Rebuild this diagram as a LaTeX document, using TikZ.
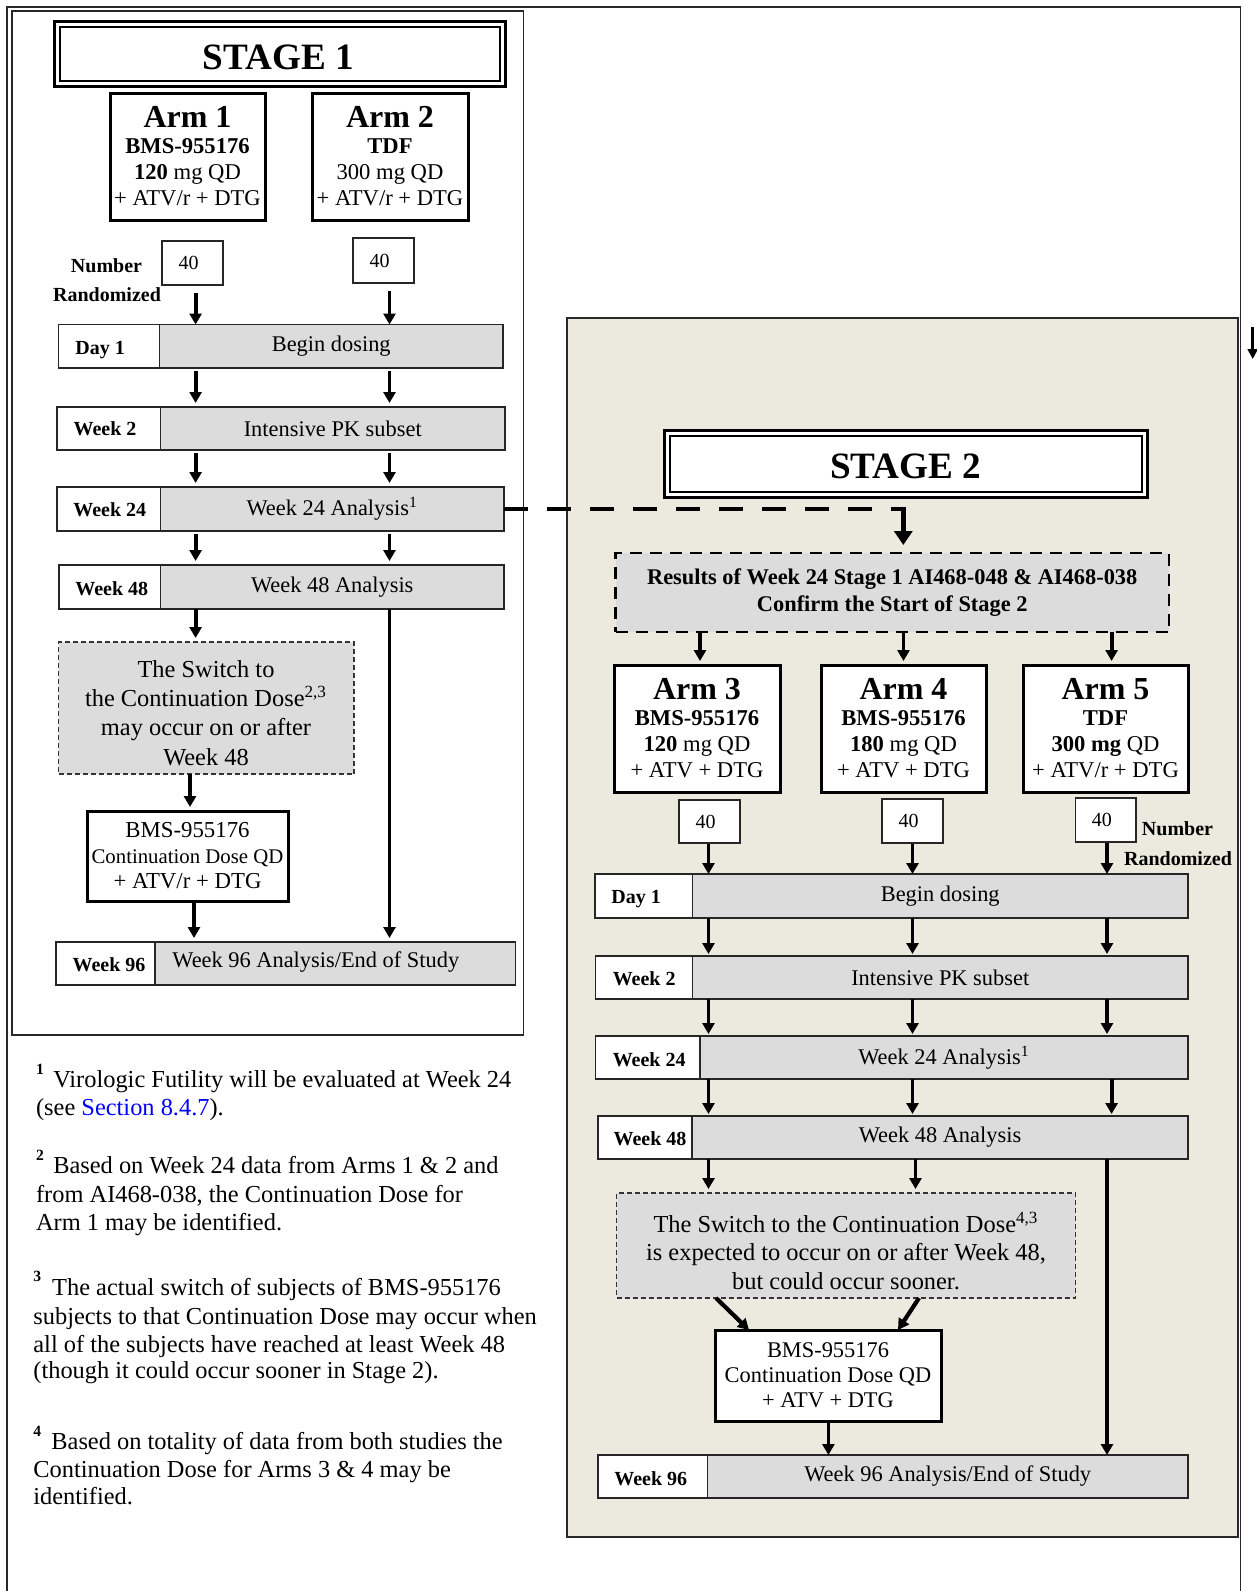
\documentclass[tikz,border=0pt]{standalone}
\usepackage{fontspec}
\setmainfont{Liberation Serif}
\usetikzlibrary{arrows.meta}
\definecolor{greyc}{RGB}{220,220,220}
\definecolor{beige}{RGB}{236,233,223}
\definecolor{linec}{RGB}{40,40,40}
\definecolor{linkblue}{RGB}{0,0,255}
\newcommand\fs[2]{\fontsize{#1}{#2}\selectfont}
\newcommand\bx[7][]{\node[#1,inner sep=0pt,outer sep=0pt,minimum width={(#5-#3)*0.5pt},minimum height={(#6-#4)*0.5pt}] (#2) at ({(#3+#5)/2},{(#4+#6)/2}) {#7};}
\begin{document}
\begin{tikzpicture}[x=0.5pt,y=-0.5pt,
 title/.style={font=\fs{18.6}{20}\bfseries, inner sep=0pt},
 armbox/.style={draw=black, line width=1.5pt, fill=white, align=center, font=\fs{11.3}{13}},
 numbox/.style={draw=black!85, line width=0.6pt, fill=white, font=\fs{10}{12}},
 labbox/.style={draw=black!85, line width=0.75pt, fill=white},
 greybox/.style={draw=black!85, line width=0.75pt, fill=greyc, font=\fs{11.2}{13}},
 lbl/.style={font=\fs{10}{12}\bfseries, inner sep=0pt},
 swbox/.style={draw=black!80, dash pattern=on 2.5pt off 1.5pt, line width=0.6pt, fill=greyc},
 swtext/.style={align=center, inner sep=0pt, font=\fs{12.2}{14.6}},
 contbox/.style={draw=black, line width=1.5pt, fill=white, align=center},
 resbox/.style={draw=black, dash pattern=on 6pt off 4pt, line width=1.4pt, fill=greyc, align=center, font=\fs{11.2}{13.3}\bfseries},
 arr/.style={draw=black, line width=1.9pt, -{Triangle[width=6pt,length=5.5pt]}, shorten <=1.5pt, shorten >=2pt},
 dashconn/.style={draw=black, line width=2.4pt, dash pattern=on 12pt off 9.5pt},
 bigarr/.style={draw=black, line width=2.4pt, -{Triangle[width=9pt,length=7pt]}},
 fn/.style={font=\fs{12.2}{14}, inner sep=0pt, anchor=base west},
 fnsup/.style={font=\fs{7.8}{8}\bfseries, inner sep=0pt, anchor=base west},
 armhead/.style={font=\fs{16}{16}\bfseries}
]
\useasboundingbox (0,0) rectangle (1257,1591);
\fill[white] (0,0) rectangle (1257,1591);
% frames
\draw[line width=0.6pt, draw=linec] (7,1595) -- (7,7) -- (1240.7,7) -- (1240.7,1595);
\draw[line width=0.75pt, draw=linec] (12,11) rectangle (523.5,1035);
\draw[line width=1pt, draw=linec, fill=beige] (567,318) rectangle (1238.3,1537);

% ===== STAGE 1 =====
\bx[draw=black,line width=1.5pt,fill=white]{t1o}{54}{21}{505}{86}{}
\bx[draw=black,line width=1pt]{t1i}{59.5}{26.5}{499.5}{80.5}{}
\node[title, anchor=base] (t1txt) at (278.6,69.3) {STAGE 1};

\bx[armbox]{arm1}{110}{93}{265}{220}{{\fs{16}{16}\bfseries Arm 1}\\ \textbf{BMS-955176}\\ \textbf{120} mg QD\\ + ATV/r + DTG}
\bx[armbox]{arm2}{312}{93}{468}{220}{{\fs{16}{16}\bfseries Arm 2}\\ \textbf{TDF}\\ 300 mg QD\\ + ATV/r + DTG}

\node[lbl, anchor=base] (num1) at (106.5,272.7) {Number};
\node[lbl, anchor=base] (rand1) at (107,301.7) {Randomized};
\bx[numbox]{n1}{162}{241}{223}{285}{40\kern4pt}
\bx[numbox]{n2}{353}{238}{414}{283}{40\kern4pt}

\bx[labbox]{d1l}{58.5}{324.5}{159.5}{368}{}
\bx[greybox]{d1g}{159.5}{324.5}{503}{368}{Begin dosing}
\node[lbl, anchor=base west] (d1t) at (75,354.3) {Day 1};

\bx[labbox]{w2l}{57}{407}{160.5}{450}{}
\bx[greybox]{w2g}{160.5}{407}{505}{450}{Intensive PK subset}
\node[lbl, anchor=base west] (w2t) at (73.3,435) {Week 2};

\bx[labbox]{w24l}{57}{487}{160.5}{531}{}
\bx[greybox]{w24g}{160.5}{487}{504}{531}{Week 24 Analysis\textsuperscript{1}}
\node[lbl, anchor=base west] (w24t) at (73,516.7) {Week 24};

\bx[labbox]{w48l}{59}{565}{160.5}{609}{}
\bx[greybox]{w48g}{160.5}{565}{504}{609}{Week 48 Analysis}
\node[lbl, anchor=base west] (w48t) at (75,595) {Week 48};

\bx[swbox]{sw1}{58.5}{642}{354}{774}{}
\node[swtext] (sw1t) at (206,713) {The Switch to\\the Continuation Dose\textsuperscript{2,3}\\may occur on or after\\Week 48};

\bx[contbox, font=\fs{11.4}{12.75}]{cont1}{87}{811}{288}{901}{BMS-955176\\{\fs{10.4}{12.75}Continuation Dose QD}\\+ ATV/r + DTG}

\bx[labbox]{w96l}{56}{942}{155}{985}{}
\bx[greybox]{w96g}{155}{942}{515.5}{985}{}
\node[lbl, anchor=base west] (w96t) at (72.3,971.7) {Week 96};
\node[font=\fs{11.2}{13}, inner sep=0pt, anchor=base west] (w96gt) at (172,967.5) {Week 96 Analysis/End of Study};

% stage 1 connectors
\coordinate (c1) at (195.6,0);
\coordinate (c2) at (389.5,0);
\coordinate (c3) at (190,0);
\coordinate (c4) at (194,0);
\draw[arr, shorten <=4pt, shorten >=0pt] (n1.south -| c1) -- (d1g.north -| c1);
\draw[arr, shorten <=4pt, shorten >=0pt] (n2.south -| c2) -- (d1g.north -| c2);
\draw[arr] (d1g.south -| c1) -- (w2g.north -| c1);
\draw[arr] (d1g.south -| c2) -- (w2g.north -| c2);
\draw[arr] (w2g.south -| c1) -- (w24g.north -| c1);
\draw[arr] (w2g.south -| c2) -- (w24g.north -| c2);
\draw[arr] (w24g.south -| c1) -- (w48g.north -| c1);
\draw[arr] (w24g.south -| c2) -- (w48g.north -| c2);
\draw[arr, shorten <=0pt] (w48g.south -| c1) -- (sw1.north -| c1);
\draw[arr, shorten <=0pt] (w48g.south -| c2) -- (w96g.north -| c2);
\draw[arr, shorten <=0pt] (sw1.south -| c3) -- (cont1.north -| c3);
\draw[arr, shorten <=0pt] (cont1.south -| c4) -- (w96g.north -| c4);

% ===== STAGE 2 =====
\bx[draw=black,line width=1.5pt,fill=white]{t2o}{664.5}{430}{1147}{497}{}
\bx[draw=black,line width=1pt]{t2i}{670}{435.5}{1141.5}{491.5}{}
\node[title, anchor=base] (t2txt) at (905.8,478) {STAGE 2};

\bx[resbox]{res}{615.5}{553}{1169}{632}{Results of Week 24 Stage 1 AI468-048 \& AI468-038\\Confirm the Start of Stage 2}

\bx[armbox]{arm3}{614}{665}{780}{792}{{\fs{16}{16}\bfseries Arm 3}\\ \textbf{BMS-955176}\\ \textbf{120} mg QD\\ + ATV + DTG}
\bx[armbox]{arm4}{821}{665}{986}{792}{{\fs{16}{16}\bfseries Arm 4}\\ \textbf{BMS-955176}\\ \textbf{180} mg QD\\ + ATV + DTG}
\bx[armbox]{arm5}{1023}{665}{1188}{792}{{\fs{16}{16}\bfseries Arm 5}\\ \textbf{TDF}\\ \textbf{300 mg} QD\\ + ATV/r + DTG}

\bx[numbox]{n3}{679}{800}{740}{843}{40\kern4pt}
\bx[numbox]{n4}{882}{799}{943}{843}{40\kern4pt}
\bx[numbox]{n5}{1075.5}{798}{1136}{842}{40\kern4pt}
\node[lbl, anchor=base] (num2) at (1177.5,835) {Number};
\node[lbl, anchor=base] (rand2) at (1178,865) {Randomized};

\bx[labbox]{e1l}{595}{874}{692.5}{918}{}
\bx[greybox]{e1g}{692.5}{874}{1188}{918}{Begin dosing}
\node[lbl, anchor=base west] (e1t) at (611,903.3) {Day 1};

\bx[labbox]{e2l}{595.5}{956}{692.5}{999}{}
\bx[greybox]{e2g}{692.5}{956}{1188}{999}{Intensive PK subset}
\node[lbl, anchor=base west] (e2t) at (612.4,985) {Week 2};

\bx[labbox]{e24l}{595.5}{1036}{700}{1079}{}
\bx[greybox]{e24g}{700}{1036}{1188}{1079}{Week 24 Analysis\textsuperscript{1}}
\node[lbl, anchor=base west] (e24t) at (612.4,1066) {Week 24};

\bx[labbox]{e48l}{598}{1116}{692}{1159}{}
\bx[greybox]{e48g}{692}{1116}{1188}{1159}{Week 48 Analysis}
\node[lbl, anchor=base west] (e48t) at (613.3,1145) {Week 48};

\bx[swbox]{sw2}{616.5}{1193}{1075.5}{1298}{}
\node[swtext, font=\fs{12.2}{14.3}] (sw2t) at (846,1251) {The Switch to the Continuation Dose\textsuperscript{4,3}\\is expected to occur on or after Week 48,\\but could occur sooner.};

\bx[contbox, font=\fs{11.2}{12.5}]{cont2}{715}{1330}{941}{1421}{BMS-955176\\Continuation Dose QD\\+ ATV + DTG}

\bx[labbox]{e96l}{598}{1455}{707.5}{1498}{}
\bx[greybox]{e96g}{707.5}{1455}{1188}{1498}{Week 96 Analysis/End of Study}
\node[lbl, anchor=base west] (e96t) at (614,1485) {Week 96};

% stage 2 connectors
\coordinate (r1) at (700,0);
\coordinate (r2) at (903.5,0);
\coordinate (r3) at (1111.6,0);
\coordinate (s1) at (708.5,0);
\coordinate (s2) at (912.5,0);
\coordinate (s3) at (1107,0);
\coordinate (s2b) at (915.5,0);
\coordinate (s4) at (828.4,0);
\coordinate (dg1a) at (716,0);
\coordinate (dg1b) at (749,0);
\coordinate (dg2a) at (919,0);
\coordinate (dg2b) at (898,0);
\draw[arr, shorten <=0pt] (res.south -| r1) -- (arm3.north -| r1);
\draw[arr, shorten <=0pt] (res.south -| r2) -- (arm4.north -| r2);
\draw[arr, shorten <=0pt] (res.south -| r3) -- (arm5.north -| r3);
\draw[arr, shorten <=0.5pt, shorten >=0pt] (n3.south -| s1) -- (e1g.north -| s1);
\draw[arr, shorten <=0.5pt, shorten >=0pt] (n4.south -| s2) -- (e1g.north -| s2);
\draw[arr, shorten <=0.5pt, shorten >=0pt] (n5.south -| s3) -- (e1g.north -| s3);
\draw[arr, shorten <=0pt, shorten >=1pt] (e1g.south -| s1) -- (e2g.north -| s1);
\draw[arr, shorten <=0pt, shorten >=1pt] (e1g.south -| s2) -- (e2g.north -| s2);
\draw[arr, shorten <=0pt, shorten >=1pt] (e1g.south -| s3) -- (e2g.north -| s3);
\draw[arr, shorten <=0pt, shorten >=1pt] (e2g.south -| s1) -- (e24g.north -| s1);
\draw[arr, shorten <=0pt, shorten >=1pt] (e2g.south -| s2) -- (e24g.north -| s2);
\draw[arr, shorten <=0pt, shorten >=1pt] (e2g.south -| s3) -- (e24g.north -| s3);
\draw[arr, shorten <=0pt, shorten >=1pt] (e24g.south -| s1) -- (e48g.north -| s1);
\draw[arr, shorten <=0pt, shorten >=1pt] (e24g.south -| s2) -- (e48g.north -| s2);
\draw[arr, shorten <=0pt, shorten >=1pt] (e24g.south -| r3) -- (e48g.north -| r3);
\draw[arr, shorten <=0pt] (e48g.south -| s1) -- (sw2.north -| s1);
\draw[arr, shorten <=0pt] (e48g.south -| s2b) -- (sw2.north -| s2b);
\draw[arr, shorten <=0pt, shorten >=0pt] (e48g.south -| s3) -- (e96g.north -| s3);
\draw[arr, line width=2.1pt, shorten <=0pt, shorten >=0pt] (sw2.south -| dg1a) -- (cont2.north -| dg1b);
\draw[arr, line width=2.1pt, shorten <=0pt, shorten >=0pt] (sw2.south -| dg2a) -- (cont2.north -| dg2b);
\draw[arr, shorten <=0pt, shorten >=0pt] (cont2.south -| s4) -- (e96g.north -| s4);

% dashed link stage 1 -> stage 2
\coordinate (dk) at (903.3,0);
\draw[dashconn] (w24g.east) -- (w24g.east -| dk);
\draw[bigarr, shorten <=-1.2pt, shorten >=4pt] (w24g.east -| dk) -- (res.north -| dk);

% stray arrow at right edge
\coordinate (sa) at (1252.7,327);
\coordinate (sb) at (1252.7,359);
\draw[draw=black, line width=1.3pt, -{Triangle[width=5pt,length=5pt]}] (sa) -- (sb);

% footnotes
\node[fnsup] (f1s) at (35.7,1074.5) {1};
\node[fn] (f1) at (52.9,1087.2) {Virologic Futility will be evaluated at Week 24};
\node[fn] (f2) at (35.7,1115.9) {(see {\color{linkblue}Section 8.4.7}).};
\node[fnsup] (f2s) at (35.7,1160.5) {2};
\node[fn] (f3) at (52.9,1173.1) {Based on Week 24 data from Arms 1 \& 2 and};
\node[fn] (f4) at (35.7,1202.5) {from AI468-038, the Continuation Dose for};
\node[fn] (f5) at (35.7,1230.4) {Arm 1 may be identified.};
\node[fnsup] (f3s) at (33,1281) {3};
\node[fn] (f6) at (51.8,1295.5) {The actual switch of subjects of BMS-955176};
\node[fn] (f7) at (33,1324.1) {subjects to that Continuation Dose may occur when};
\node[fn] (f8) at (33,1352) {all of the subjects have reached at least Week 48};
\node[fn] (f9) at (33,1378.8) {(though it could occur sooner in Stage 2).};
\node[fnsup] (f4s) at (33,1436.5) {4};
\node[fn] (f10) at (51,1449.3) {Based on totality of data from both studies the};
\node[fn] (f11) at (33,1477.2) {Continuation Dose for Arms 3 \& 4 may be};
\node[fn] (f12) at (33,1504) {identified.};
\end{tikzpicture}
\end{document}
